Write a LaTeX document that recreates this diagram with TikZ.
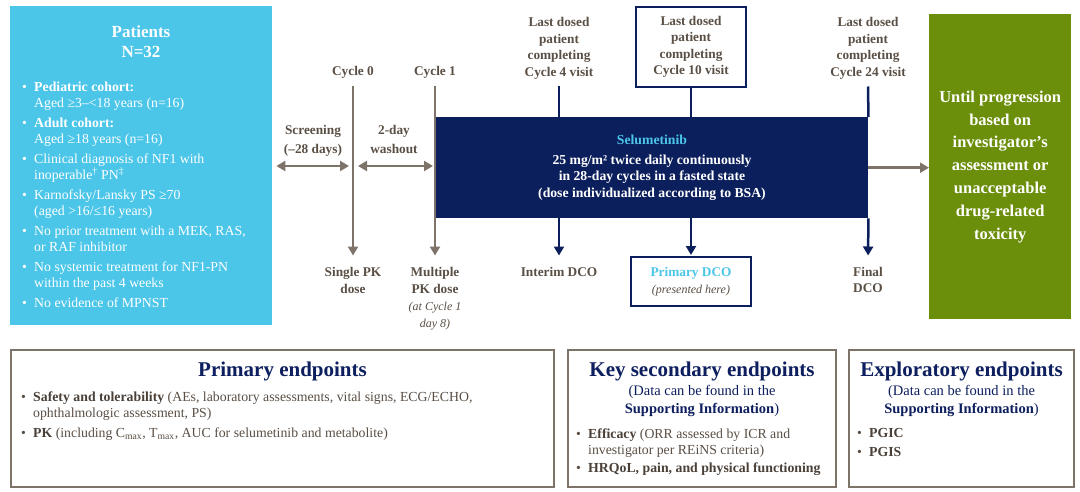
\documentclass[tikz,border=0pt]{standalone}
\usepackage{fontspec}
\setmainfont{Liberation Serif}
\usetikzlibrary{arrows.meta}
\definecolor{pcyan}{HTML}{4BC6E9}
\definecolor{navy}{HTML}{0B1F5C}
\definecolor{gline}{HTML}{7D7369}
\definecolor{olive}{HTML}{6B8E0B}
\definecolor{txtc}{HTML}{5A4F45}
\definecolor{txtb}{HTML}{4A4038}
\definecolor{ttl}{HTML}{0D1F5E}
\newcommand\bitem{\makebox[12pt][l]{\textbullet}}
\newcommand\bcont{\hspace*{12pt}}
\begin{document}
\begin{tikzpicture}[x=1pt,y=-1pt,
  lbl/.style={font=\fontsize{13.3}{16.5}\selectfont\bfseries, text=txtc, align=center, inner sep=0},
  gconn/.style={draw=gline, line width=2.5},
  nconn/.style={draw=navy, line width=2.5},
  >={Triangle[width=10pt,length=9pt]},
  fillbox/.style={inner sep=0, anchor=north west},
  endbox/.style={draw=gline, line width=2, inner sep=0, anchor=north west, minimum height=137},
  endttl/.style={font=\fontsize{21}{24}\selectfont\bfseries, text=ttl, inner sep=0, anchor=north},
  endsub/.style={font=\fontsize{14.5}{18}\selectfont, text=ttl, inner sep=0, anchor=north, align=center},
  endlist/.style={font=\fontsize{13.8}{16.5}\selectfont, text=txtc, inner sep=0, anchor=north west, align=left}
]
\useasboundingbox (0,0) rectangle (1080,492);
\fill[white] (0,0) rectangle (1080,492);

% Patients box
\node[fillbox, fill=pcyan, minimum width=262, minimum height=319] (pat) at (10,6) {};
\node[font=\fontsize{17}{20}\selectfont\bfseries, text=white, align=center, inner sep=0, anchor=north] (pattl) at (141,26) {Patients\\N=32};
\node[font=\fontsize{13.8}{16}\selectfont, text=white, align=left, inner sep=0, anchor=north west] (patlist) at (22,82) {%
\bitem\textbf{Pediatric cohort:}\\
\bcont Aged ≥3–<18 years (n=16)\\[4pt]
\bitem\textbf{Adult cohort:}\\
\bcont Aged ≥18 years (n=16)\\[4pt]
\bitem Clinical diagnosis of NF1 with\\
\bcont inoperable\textsuperscript{†} PN\textsuperscript{‡}\\[4pt]
\bitem Karnofsky/Lansky PS ≥70\\
\bcont (aged >16/≤16 years)\\[4pt]
\bitem No prior treatment with a MEK, RAS,\\
\bcont or RAF inhibitor\\[4pt]
\bitem No systemic treatment for NF1-PN\\
\bcont within the past 4 weeks\\[4pt]
\bitem No evidence of MPNST};

% Selumetinib box
\node[fillbox, fill=navy, minimum width=432, minimum height=101] (sel) at (436,117) {};
\node[font=\fontsize{13.7}{16.8}\selectfont\bfseries, text=white, align=center, inner sep=0, anchor=north] (seltxt) at (652,134.5) {%
\textcolor{pcyan}{Selumetinib}\\[3pt]
25 mg/m² twice daily continuously\\
in 28-day cycles in a fasted state\\
(dose individualized according to BSA)};

% Cycle 0 / Cycle 1
\node[lbl, anchor=north] (c0) at (353,66.5) {Cycle 0};
\node[lbl, anchor=north] (spk) at (353,267.5) {Single PK\\dose};
\draw[gconn, ->, shorten <=7, shorten >=12] (c0.south) -- (spk.north);
\node[lbl, anchor=north] (c1) at (435,66.5) {Cycle 1};
\node[lbl, anchor=north] (mpk) at (435,267.5) {Multiple\\PK dose\\[1pt]{\fontsize{12}{16}\selectfont\mdseries\itshape (at Cycle 1}\\{\fontsize{12}{16}\selectfont\mdseries\itshape day 8)}};
\draw[gconn, ->, shorten <=7, shorten >=12] (c1.south) -- (mpk.north);

% Screening / washout
\node[lbl, anchor=north, font=\fontsize{13.3}{19}\selectfont\bfseries] (scr) at (313,125.5) {Screening\\(–28 days)};
\draw[gconn, <->, shorten <=4, shorten >=4] (pat.east |- 0,166) -- (c0 |- 0,166);
\node[lbl, anchor=north, font=\fontsize{13.3}{19}\selectfont\bfseries] (wsh) at (394,125.5) {2-day\\washout};
\draw[gconn, <->, shorten <=5, shorten >=3] (c0 |- 0,166) -- (sel.west |- 0,166);

% Cycle 4
\node[lbl, anchor=north] (c4) at (559,17.5) {Last dosed\\patient\\completing\\Cycle 4 visit};
\draw[nconn, shorten <=7] (c4.south) -- (c4.south |- sel.north);
\node[lbl, anchor=north] (int) at (559,267.5) {Interim DCO};
\draw[nconn, ->, shorten >=12] (sel.south -| int) -- (int.north);

% Cycle 10
\node[lbl, draw=navy, line width=2, minimum width=110, minimum height=80, anchor=north west] (c10) at (635,6) {Last dosed\\patient\\completing\\Cycle 10 visit};
\draw[nconn] (c10.south) -- (c10.south |- sel.north);
\node[lbl, draw=navy, line width=2, minimum width=120, minimum height=49, anchor=north west] (pdco) at (630,256) {\textcolor{pcyan}{Primary DCO}\\[1pt]{\fontsize{12}{16}\selectfont\mdseries\itshape (presented here)}};
\draw[nconn, ->, shorten >=1] (sel.south -| pdco) -- (pdco.north);

% Cycle 24
\node[lbl, anchor=north] (c24) at (868,17.5) {Last dosed\\patient\\completing\\Cycle 24 visit};
\draw[nconn, shorten <=7] (c24.south) -- (sel.north east);
\node[lbl, anchor=north, font=\fontsize{13.3}{16}\selectfont\bfseries] (fin) at (868,267.5) {Final\\DCO};
\draw[nconn, ->, shorten >=12] (sel.south east) -- (fin.north);

% Green box
\node[fillbox, fill=olive, minimum width=142, minimum height=305] (grn) at (929,14) {};
\node[font=\fontsize{16.5}{22.8}\selectfont\bfseries, text=white, align=center, inner sep=0] (grntxt) at (grn.center) {Until progression\\based on\\investigator’s\\assessment or\\unacceptable\\drug-related\\toxicity};
\draw[gconn, ->] (sel.east) -- (sel.east -| grn.west);

% Primary endpoints
\node[endbox, minimum width=543] (prim) at (10,349) {};
\node[endttl] (primttl) at (prim.north |- 0,362) {Primary endpoints};
\node[endlist] (primlist) at (21,391.5) {%
\bitem{\color{txtb}\bfseries Safety and tolerability} (AEs, laboratory assessments, vital signs, ECG/ECHO,\\
\bcont ophthalmologic assessment, PS)\\[3pt]
\bitem{\color{txtb}\bfseries PK} (including C\textsubscript{max}, T\textsubscript{max}, AUC for selumetinib and metabolite)};

% Key secondary endpoints
\node[endbox, minimum width=268] (sec) at (567,349) {};
\node[endttl] (secttl) at (sec.north |- 0,362) {Key secondary endpoints};
\node[endsub] (secsub) at (sec.north |- 0,385.5) {(Data can be found in the\\\textbf{Supporting Information})};
\node[endlist] (seclist) at (576,428.5) {%
\bitem{\color{txtb}\bfseries Efficacy} (ORR assessed by ICR and\\
\bcont investigator per REiNS criteria)\\[1pt]
\bitem{\color{txtb}\bfseries HRQoL, pain, and physical functioning}};

% Exploratory endpoints
\node[endbox, minimum width=225] (exp) at (848,349) {};
\node[endttl] (expttl) at (exp.north |- 0,362) {Exploratory endpoints};
\node[endsub] (expsub) at (exp.north |- 0,385.5) {(Data can be found in the\\\textbf{Supporting Information})};
\node[endlist] (explist) at (857,428.5) {%
\bitem{\color{txtb}\bfseries PGIC}\\[2pt]
\bitem{\color{txtb}\bfseries PGIS}};
\end{tikzpicture}
\end{document}
